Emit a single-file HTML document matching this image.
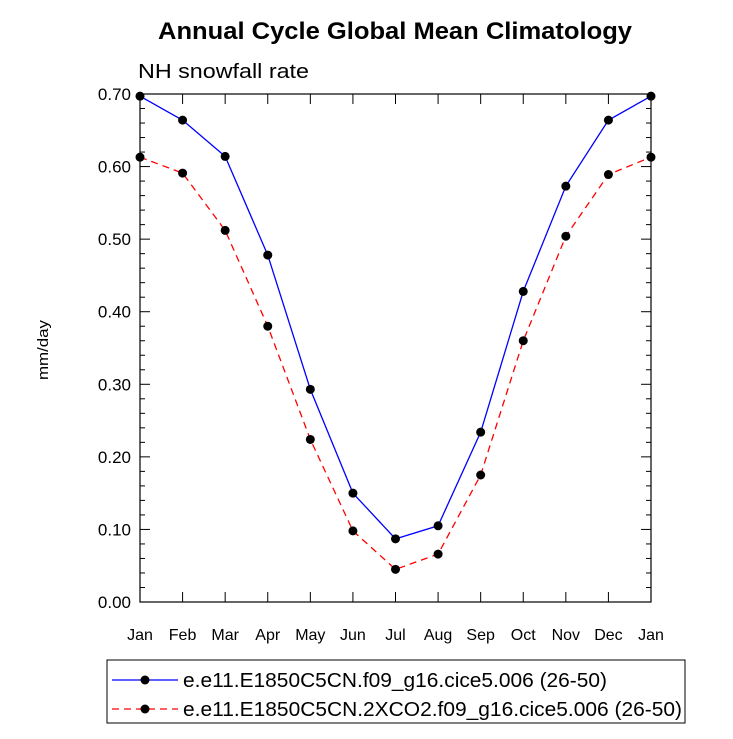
<!DOCTYPE html>
<html><head><meta charset="utf-8"><style>
body{margin:0;background:#fff;}
svg text{font-family:"Liberation Sans",Arial,sans-serif;}
</style></head><body>
<svg id="c" width="733" height="734" xmlns="http://www.w3.org/2000/svg">
<rect width="733" height="734" fill="#fff"/>
<text x="158" y="39" textLength="474" lengthAdjust="spacingAndGlyphs" font-size="24" font-weight="bold">Annual Cycle Global Mean Climatology</text>
<text x="138" y="78" textLength="171" lengthAdjust="spacingAndGlyphs" font-size="20">NH snowfall rate</text>
<text transform="translate(48,350) rotate(-90)" text-anchor="middle" textLength="60" lengthAdjust="spacingAndGlyphs" font-size="15">mm/day</text>
<g id="axes"></g>
<g id="series"></g>
<rect x="107" y="660" width="578" height="63" fill="none" stroke="#000" stroke-width="1"/>
<g>
<line x1="112" y1="680" x2="178" y2="680" stroke="#0000ff" stroke-width="1.3"/>
<circle cx="145" cy="680" r="4.5" fill="#000"/>
<text x="183" y="687" textLength="424" lengthAdjust="spacingAndGlyphs" font-size="20">e.e11.E1850C5CN.f09_g16.cice5.006 (26-50)</text>
</g>
<g>
<line x1="112" y1="709" x2="178" y2="709" stroke="#ff0000" stroke-width="1.3" stroke-dasharray="7,5"/>
<circle cx="145" cy="709" r="4.5" fill="#000"/>
<text x="183" y="716" textLength="499" lengthAdjust="spacingAndGlyphs" font-size="20">e.e11.E1850C5CN.2XCO2.f09_g16.cice5.006 (26-50)</text>
</g>
</svg>
<script>
const months=["Jan","Feb","Mar","Apr","May","Jun","Jul","Aug","Sep","Oct","Nov","Dec","Jan"];
const controlVals=[0.697,0.664,0.614,0.478,0.293,0.150,0.087,0.105,0.234,0.428,0.573,0.664,0.697];
const co2Vals=[0.613,0.591,0.512,0.380,0.224,0.098,0.045,0.066,0.175,0.360,0.504,0.589,0.613];
const yTicks=["0.00","0.10","0.20","0.30","0.40","0.50","0.60","0.70"];
const L=140,R=651,T=94,B=602,NS="http://www.w3.org/2000/svg";
const xS=i=>L+(R-L)*i/(months.length-1);
const yS=v=>B-(B-T)*v/0.7;
function mk(tag,attrs,parent){const e=document.createElementNS(NS,tag);for(const k in attrs)e.setAttribute(k,attrs[k]);parent.appendChild(e);return e;}
const ax=document.getElementById('axes');
const frame=mk('rect',{x:L,y:T,width:R-L,height:B-T,fill:'none',stroke:'#000','stroke-width':1.2},ax);


for(let k=0;k<=35;k++){const v=k*0.02,y=yS(v),len=(k%5===0)?10:5;
 mk('line',{x1:L,y1:y,x2:L+len,y2:y,stroke:'#000'},ax);
 mk('line',{x1:R,y1:y,x2:R-len,y2:y,stroke:'#000'},ax);}
yTicks.forEach(t=>{const e=mk('text',{x:L-9,y:yS(parseFloat(t))+6,'text-anchor':'end','font-size':17},ax);e.textContent=t;
 
 });
months.forEach((m,i)=>{const x=xS(i);
 mk('line',{x1:x,y1:B,x2:x,y2:B-10,stroke:'#000'},ax);
 mk('line',{x1:x,y1:T,x2:x,y2:T+10,stroke:'#000'},ax);
 const e=mk('text',{x:x,y:B+38,'text-anchor':'middle','font-size':16},ax);e.textContent=m;
 
 });
const sg=document.getElementById('series');
function draw(vals,color,dash,name){
 const pts=vals.map((v,i)=>xS(i)+','+yS(v)).join(' ');
 const pl=mk('polyline',{points:pts,fill:'none',stroke:color,'stroke-width':1.3,'stroke-dasharray':dash},sg);
 
 
 vals.forEach((v,i)=>{const c=mk('circle',{cx:xS(i),cy:yS(v),r:4.5,fill:'#000'},sg);
  
  });
}
draw(controlVals,'#0000ff','none','control');
draw(co2Vals,'#ff0000','7,5','2xco2');
</script>
</body></html>
